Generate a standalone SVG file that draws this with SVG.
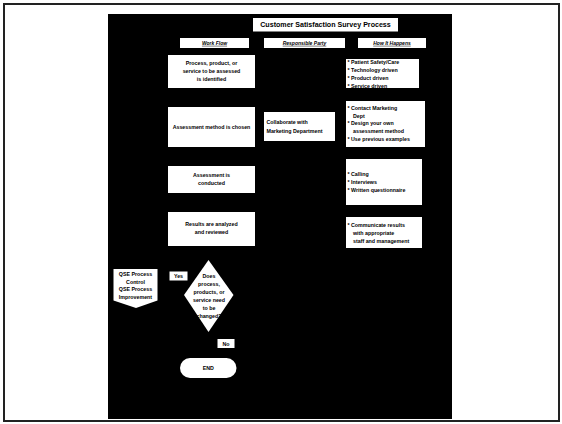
<svg xmlns="http://www.w3.org/2000/svg" width="562" height="424" viewBox="0 0 562 424">
<style>
.bx{fill:#fff}
text{font-family:"Liberation Sans",Arial,sans-serif;font-weight:bold;font-size:5.3px;fill:#000}
.c{text-anchor:middle}
.h{font-size:5px;font-style:italic;text-decoration:underline;text-anchor:middle}
.t{font-size:7.1px;text-anchor:middle}
</style>
<rect x="0" y="0" width="562" height="424" fill="#fff"/>
<rect x="4" y="4" width="555" height="417" fill="none" stroke="#222" stroke-width="2"/>
<rect x="108" y="14" width="344" height="405" fill="#000"/>

<g id="title"><rect class="bx" x="253" y="18" width="145" height="13.5"/><text class="t" x="325.5" y="27.4">Customer Satisfaction Survey Process</text></g>
<g id="hdr-workflow"><rect class="bx" x="180" y="38" width="69" height="10"/><text class="h" x="214.5" y="44.8">Work Flow</text></g>
<g id="hdr-party"><rect class="bx" x="264" y="38" width="81" height="10"/><text class="h" x="304.5" y="44.8">Responsible Party</text></g>
<g id="hdr-how"><rect class="bx" x="358" y="38" width="68" height="10"/><text class="h" x="392" y="44.8">How It Happens</text></g>

<g id="step1"><rect class="bx" x="168" y="55" width="87" height="33"/>
<text class="c" x="211.5" y="65">Process, product, or</text>
<text class="c" x="211.5" y="73">service to be assessed</text>
<text class="c" x="211.5" y="81">is identified</text></g>

<g id="how1"><rect class="bx" x="346" y="59" width="73" height="29"/>
<text x="347.5" y="64">* Patient Safety/Care</text>
<text x="347.5" y="72">* Technology driven</text>
<text x="347.5" y="80">* Product driven</text>
<text x="347.5" y="88">* Service driven</text></g>

<g id="step2"><rect class="bx" x="168" y="107" width="87" height="40"/>
<text class="c" x="211.5" y="128.5">Assessment method is chosen</text></g>

<g id="party2"><rect class="bx" x="264" y="112" width="71" height="29"/>
<text x="266.5" y="124">Collaborate with</text>
<text x="266.5" y="132.5">Marketing Department</text></g>

<g id="how2"><rect class="bx" x="346" y="101" width="79" height="46"/>
<text x="347.5" y="110">* Contact Marketing</text>
<text x="353" y="117.5">Dept</text>
<text x="347.5" y="125">* Design your own</text>
<text x="353" y="133">assessment method</text>
<text x="347.5" y="141">* Use previous examples</text></g>

<g id="step3"><rect class="bx" x="168" y="166" width="87" height="27"/>
<text class="c" x="211.5" y="177">Assessment is</text>
<text class="c" x="211.5" y="184.5">conducted</text></g>

<g id="how3"><rect class="bx" x="346" y="159" width="76" height="46"/>
<text x="347.5" y="175.5">* Calling</text>
<text x="347.5" y="183.5">* Interviews</text>
<text x="347.5" y="191.5">* Written questionnaire</text></g>

<g id="step4"><rect class="bx" x="168" y="212" width="87" height="34"/>
<text class="c" x="211.5" y="226">Results are analyzed</text>
<text class="c" x="211.5" y="234">and reviewed</text></g>

<g id="how4"><rect class="bx" x="346" y="217" width="76" height="31"/>
<text x="347.5" y="227">* Communicate results</text>
<text x="353" y="235">with appropriate</text>
<text x="353" y="242.5">staff and management</text></g>

<g id="decision"><polygon class="bx" points="208.5,260 233.5,295 208.5,332 184,295"/>
<text class="c" x="209" y="278">Does</text>
<text class="c" x="209" y="286">process,</text>
<text class="c" x="209" y="294">products, or</text>
<text class="c" x="209" y="302">service need</text>
<text class="c" x="209" y="310">to be</text>
<text class="c" x="209" y="317.5">changed?</text></g>

<g id="yes"><rect class="bx" x="169.5" y="271.5" width="18" height="9"/><text class="c" x="178.5" y="278">Yes</text></g>
<g id="no"><rect class="bx" x="217.5" y="339" width="17" height="9"/><text class="c" x="226" y="345.5">No</text></g>

<g id="qse"><polygon class="bx" points="113.5,269 157.5,269 157.5,300.5 136,308 113.5,300.5"/>
<text class="c" x="135.5" y="276">QSE Process</text>
<text class="c" x="135.5" y="283.5">Control</text>
<text class="c" x="135.5" y="291">QSE Process</text>
<text class="c" x="135.5" y="298.5">Improvement</text></g>

<g id="end"><rect class="bx" x="180" y="358" width="56.5" height="20" rx="10" ry="10"/>
<text class="c" x="208.3" y="370">END</text></g>

<g id="connectors"></g>
</svg>
